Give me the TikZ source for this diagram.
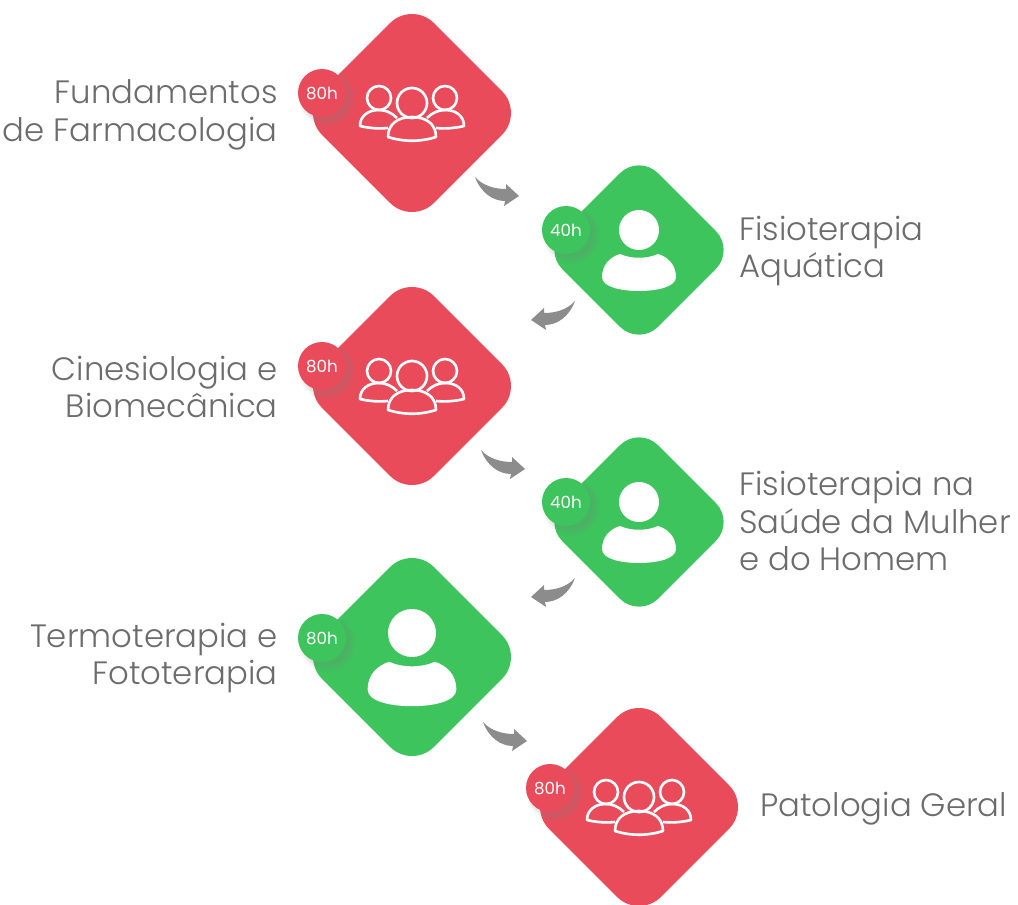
\documentclass[tikz,border=0pt]{standalone}
\usepackage{xcolor}
\usepackage{fontspec}
\setmainfont{Poppins}[UprightFont=* Light]
\newfontfamily\badgefont{Poppins}
\usetikzlibrary{shapes.geometric, shadows}

\definecolor{redtile}{HTML}{E94B5B}
\definecolor{greentile}{HTML}{3DC45C}
\definecolor{labelgray}{HTML}{6C6C6C}
\definecolor{turngray}{HTML}{8C8C8C}

\tikzset{
    bigtile/.style={diamond,aspect=1,inner sep=0pt,minimum size=4.48cm,rounded corners=0.62cm},
    smalltile/.style={diamond,aspect=1,inner sep=0pt,minimum size=3.84cm,rounded corners=0.54cm},
    badge/.style={circle,inner sep=0pt,minimum size=0.96cm,text=white,font=\badgefont\fontsize{9.5}{10}\selectfont,
        drop shadow={shadow xshift=2.5pt,shadow yshift=-2.5pt,shadow scale=1.2,opacity=.04},
        drop shadow={shadow xshift=2.5pt,shadow yshift=-2.5pt,shadow scale=1.14,opacity=.06},
        drop shadow={shadow xshift=2.5pt,shadow yshift=-2.5pt,shadow scale=1.08,opacity=.08},
        drop shadow={shadow xshift=2pt,shadow yshift=-2pt,shadow scale=1.02,opacity=.1}},
    leftlabel/.style={anchor=east,align=right,inner sep=0pt,text=labelgray,font=\fontsize{18.4}{21.5}\selectfont},
    rightlabel/.style={anchor=west,align=left,inner sep=0pt,text=labelgray,font=\fontsize{18.4}{21.5}\selectfont},
    pics/groupicon/.style={code={
        \begin{scope}[draw=white,line width=1.5pt,line join=round]
            \draw (0,-10) circle (15);
            \draw (-33,-15) circle (12);
            \draw (33,-15) circle (12);
            \draw (-24,24) .. controls (-24,11) and (-14,4) .. (0,4) .. controls (14,4) and (24,11) .. (24,24) .. controls (8,29) and (-8,29) .. cycle;
            \draw (-15,5) .. controls (-20,0) and (-26,-3) .. (-33,-3) .. controls (-44,-3) and (-52,3) .. (-52,13) .. controls (-44,15) and (-34,16) .. (-24,15);
            \draw (15,5) .. controls (20,0) and (26,-3) .. (33,-3) .. controls (44,-3) and (52,3) .. (52,13) .. controls (44,15) and (34,16) .. (24,15);
        \end{scope}
    }},
    pics/personicon/.style={code={
        \fill[white] (0,-20) circle (20);
        \fill[white] (-37,27) .. controls (-37,15) and (-29,7) .. (-19,4) .. controls (-8,9) and (8,9) .. (19,4) .. controls (29,7) and (37,15) .. (37,27) .. controls (37,37) and (18,41) .. (0,41) .. controls (-18,41) and (-37,37) .. cycle;
    }},
    pics/turnarrow/.style={code={
        \fill[turngray] (0,0) .. controls (8,9) and (20,12) .. (31,12) -- (31,7) -- (44,19) -- (29,29) -- (30,24) .. controls (18,24) and (6,16) .. cycle;
    }}
}

\begin{document}
\begin{tikzpicture}[x=0.02cm,y=-0.02cm]
    \useasboundingbox (0,0) rectangle (1018,905);

    % Fundamentos
    \node[bigtile,fill=redtile] (farma) at (412,113) {};
    \pic at (farma) {groupicon};
    \node[badge,fill=redtile] (farmah) at (322,93) {80h};
    \node[leftlabel] (farmat) at (278,115) {Fundamentos\\de Farmacologia};

    % Aquatica
    \node[smalltile,fill=greentile] (aqua) at (639,250) {};
    \pic at (aqua) {personicon};
    \node[badge,fill=greentile] (aquah) at (566,230) {40h};
    \node[rightlabel] (aquat) at (739,251) {Fisioterapia\\Aquática};

    % Cinesiologia
    \node[bigtile,fill=redtile] (cine) at (412,386) {};
    \pic at (cine) {groupicon};
    \node[badge,fill=redtile] (cineh) at (322,366) {80h};
    \node[leftlabel] (cinet) at (278,387) {Cinesiologia e\\Biomecânica};

    % Mulher e Homem
    \node[smalltile,fill=greentile] (saude) at (639,522) {};
    \pic at (saude) {personicon};
    \node[badge,fill=greentile] (saudeh) at (566,502) {40h};
    \node[rightlabel] (saudet) at (739,521) {Fisioterapia na\\Saúde da Mulher\\e do Homem};

    % Termoterapia
    \node[bigtile,fill=greentile] (termo) at (412,657) {};
    \pic[scale=1.2] at (termo) {personicon};
    \node[badge,fill=greentile] (termoh) at (322,638) {80h};
    \node[leftlabel] (termot) at (278,658) {Termoterapia e\\Fototerapia};

    % Patologia
    \node[bigtile,fill=redtile] (pato) at (639,807) {};
    \pic at (pato) {groupicon};
    \node[badge,fill=redtile] (patoh) at (550,788) {80h};
    \node[rightlabel] (patot) at (760,809) {Patologia Geral};

    % Setas
    \coordinate (turna) at (475,177);
    \coordinate (turnb) at (575,301);
    \coordinate (turnc) at (481,450);
    \coordinate (turnd) at (575,578);
    \coordinate (turne) at (483,722);
    \pic at (turna) {turnarrow};
    \pic[xscale=-1] at (turnb) {turnarrow};
    \pic at (turnc) {turnarrow};
    \pic[xscale=-1] at (turnd) {turnarrow};
    \pic at (turne) {turnarrow};
\end{tikzpicture}
\end{document}
